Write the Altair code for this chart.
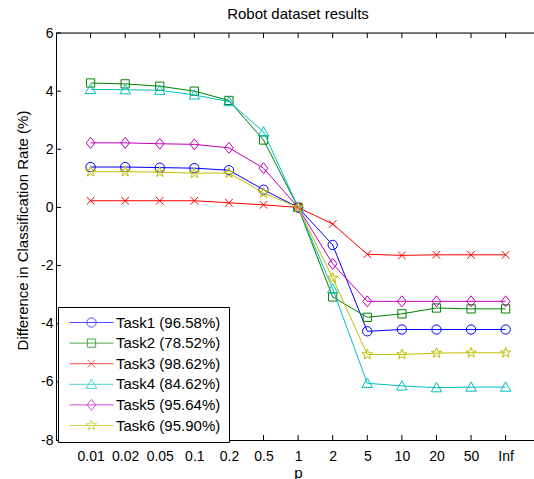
import math
import altair as alt
import pandas as pd

# ---------------- data ----------------
chart_title = "Robot dataset results"
p_labels = ["0.01", "0.02", "0.05", "0.1", "0.2", "0.5", "1", "2", "5", "10", "20", "50", "Inf"]
task_names = ["Task1 (96.58%)", "Task2 (78.52%)", "Task3 (98.62%)",
              "Task4 (84.62%)", "Task5 (95.64%)", "Task6 (95.90%)"]
task1 = [1.39, 1.39, 1.37, 1.35, 1.28, 0.61, 0.0, -1.29, -4.26, -4.20, -4.20, -4.20, -4.20]
task2 = [4.28, 4.25, 4.17, 4.00, 3.68, 2.32, 0.0, -3.08, -3.78, -3.66, -3.46, -3.49, -3.49]
task3 = [0.23, 0.23, 0.23, 0.23, 0.16, 0.09, 0.0, -0.57, -1.61, -1.65, -1.63, -1.63, -1.63]
task4 = [4.06, 4.05, 4.03, 3.87, 3.64, 2.60, 0.0, -2.80, -6.05, -6.14, -6.20, -6.18, -6.18]
task5 = [2.22, 2.22, 2.19, 2.17, 2.05, 1.35, 0.0, -1.94, -3.23, -3.23, -3.23, -3.23, -3.23]
task6 = [1.23, 1.23, 1.21, 1.18, 1.18, 0.50, 0.0, -2.43, -5.06, -5.06, -5.01, -5.00, -5.00]
y_ticks = [-8, -6, -4, -2, 0, 2, 4, 6]

series = [task1, task2, task3, task4, task5, task6]
colors = ["#0000FF", "#008000", "#FF0000", "#00BFBF", "#BF00BF", "#BFBF00"]

rows = []
for name, vals in zip(task_names, series):
    for i, v in enumerate(vals):
        rows.append({"task": name, "pos": i + 1, "value": v})
df = pd.DataFrame(rows)

# ---------------- marker shapes ----------------
def star_path(R=1.0, r=0.4):
    pts = []
    for k in range(10):
        a = math.radians(-90 + 36 * k)
        rad = R if k % 2 == 0 else r
        pts.append((rad * math.cos(a), rad * math.sin(a)))
    return "M" + "L".join(f"{x:.3f},{y:.3f}" for x, y in pts) + "Z"

markers = [
    "M0.85,0A0.85,0.85,0,1,1,-0.85,0A0.85,0.85,0,1,1,0.85,0Z",
    "M-0.75,-0.75L0.75,-0.75L0.75,0.75L-0.75,0.75Z",
    "M-0.7,-0.7L0.7,0.7M-0.7,0.7L0.7,-0.7",
    "M0,-0.95L0.95,0.75L-0.95,0.75Z",
    "M0,-1L0.8,0L0,1L-0.8,0Z",
    star_path(),
]
legend_shapes = ["M-4,0L4,0" + m for m in markers]

W, H = 478, 407
FONT = "Liberation Sans"
XDOM = [0, 13.82]
YDOM = [-8, 6]

x_enc = alt.X(
    "pos:Q",
    scale=alt.Scale(domain=XDOM, nice=False, zero=False),
    axis=alt.Axis(
        values=list(range(1, 14)),
        labelExpr="[" + ",".join(f"'{l}'" for l in p_labels) + "][datum.value-1]",
        ticks=False, tickSize=0, grid=False, labelPadding=20,
        labelBaseline="alphabetic", labelFontSize=14, labelFont=FONT,
        labelColor="black", domainColor="black", labelFlush=False,
        labelOverlap=False, labelSeparation=0,
        title="p", titleFontSize=15, titleFont=FONT, titleFontWeight="normal",
        titleColor="black", titleX=242, titleY=37, titleBaseline="alphabetic",
    ),
)
y_enc = alt.Y(
    "value:Q",
    scale=alt.Scale(domain=YDOM, nice=False, zero=False),
    axis=alt.Axis(
        values=y_ticks, labelExpr="'' + datum.value",
        ticks=False, tickSize=0, grid=False, labelPadding=3,
        labelFontSize=14, labelFont=FONT, labelColor="black",
        domainColor="black", labelFlush=False, labelOverlap=False,
        title="Difference in Classification Rate (%)", titleFontSize=15,
        titleFont=FONT, titleFontWeight="normal", titleColor="black",
        titleX=-29, titleY=197, titleAngle=270, titleBaseline="alphabetic",
        titleAlign="center",
    ),
)

layers = []
for name, mk, col in zip(task_names, markers, colors):
    base = alt.Chart(df).transform_filter(alt.datum.task == name)
    layers.append(base.mark_line(strokeWidth=1, color=col).encode(x=x_enc, y=y_enc))
    layers.append(
        base.mark_point(shape=mk, size=121, filled=False, strokeWidth=1,
                        opacity=1, color=col).encode(x=x_enc, y=y_enc)
    )

leg = alt.Legend(
    title=None, orient="none", legendX=2, legendY=274,
    strokeColor="black", fillColor="white", padding=8,
    symbolSize=121, symbolStrokeWidth=1, symbolOffset=18,
    labelOffset=17, labelFontSize=15, labelFont=FONT,
    labelColor="black", rowPadding=4.6, labelLimit=300,
)
# legend-only layer (draws no marks)
legend_layer = alt.Chart(df).transform_filter("false").mark_point(
    filled=False, strokeWidth=1, size=121
).encode(
    x=x_enc, y=y_enc,
    color=alt.Color("task:N", scale=alt.Scale(domain=task_names, range=colors), legend=leg),
    shape=alt.Shape("task:N", scale=alt.Scale(domain=task_names, range=legend_shapes), legend=leg),
)

# inside tick marks, top frame line and title
xt = pd.DataFrame({"pos": list(range(1, 14))})
yt = pd.DataFrame({"value": y_ticks})
tick_x_bottom = alt.Chart(xt).mark_rule(color="black", strokeWidth=1).encode(
    x=x_enc, y=alt.value(H), y2=alt.value(H - 5),
)
tick_x_top = alt.Chart(xt).mark_rule(color="black", strokeWidth=1).encode(
    x=x_enc, y=alt.value(0), y2=alt.value(5),
)
tick_y = alt.Chart(yt).mark_rule(color="black", strokeWidth=1).encode(
    y=y_enc, x=alt.value(0), x2=alt.value(5),
)
top_line = alt.Chart(alt.Data(values=[{"a": 1}])).mark_rule(color="black", strokeWidth=1).encode(
    x=alt.value(0), x2=alt.value(W), y=alt.value(0),
)
title_text = alt.Chart(alt.Data(values=[{"t": chart_title}])).mark_text(
    font=FONT, fontSize=15, color="black", baseline="alphabetic", align="center"
).encode(text="t:N", x=alt.value(242), y=alt.value(-14))

chart = alt.layer(
    tick_x_bottom, tick_x_top, tick_y, top_line, title_text, *layers, legend_layer
).properties(
    width=W, height=H,
    autosize=alt.AutoSizeParams(type="none"),
    padding={"left": 56, "top": 33, "right": 0, "bottom": 39},
).configure_view(stroke=None).configure(background="white")

chart.save("out.html", embed_options={"renderer": "svg", "actions": False})
